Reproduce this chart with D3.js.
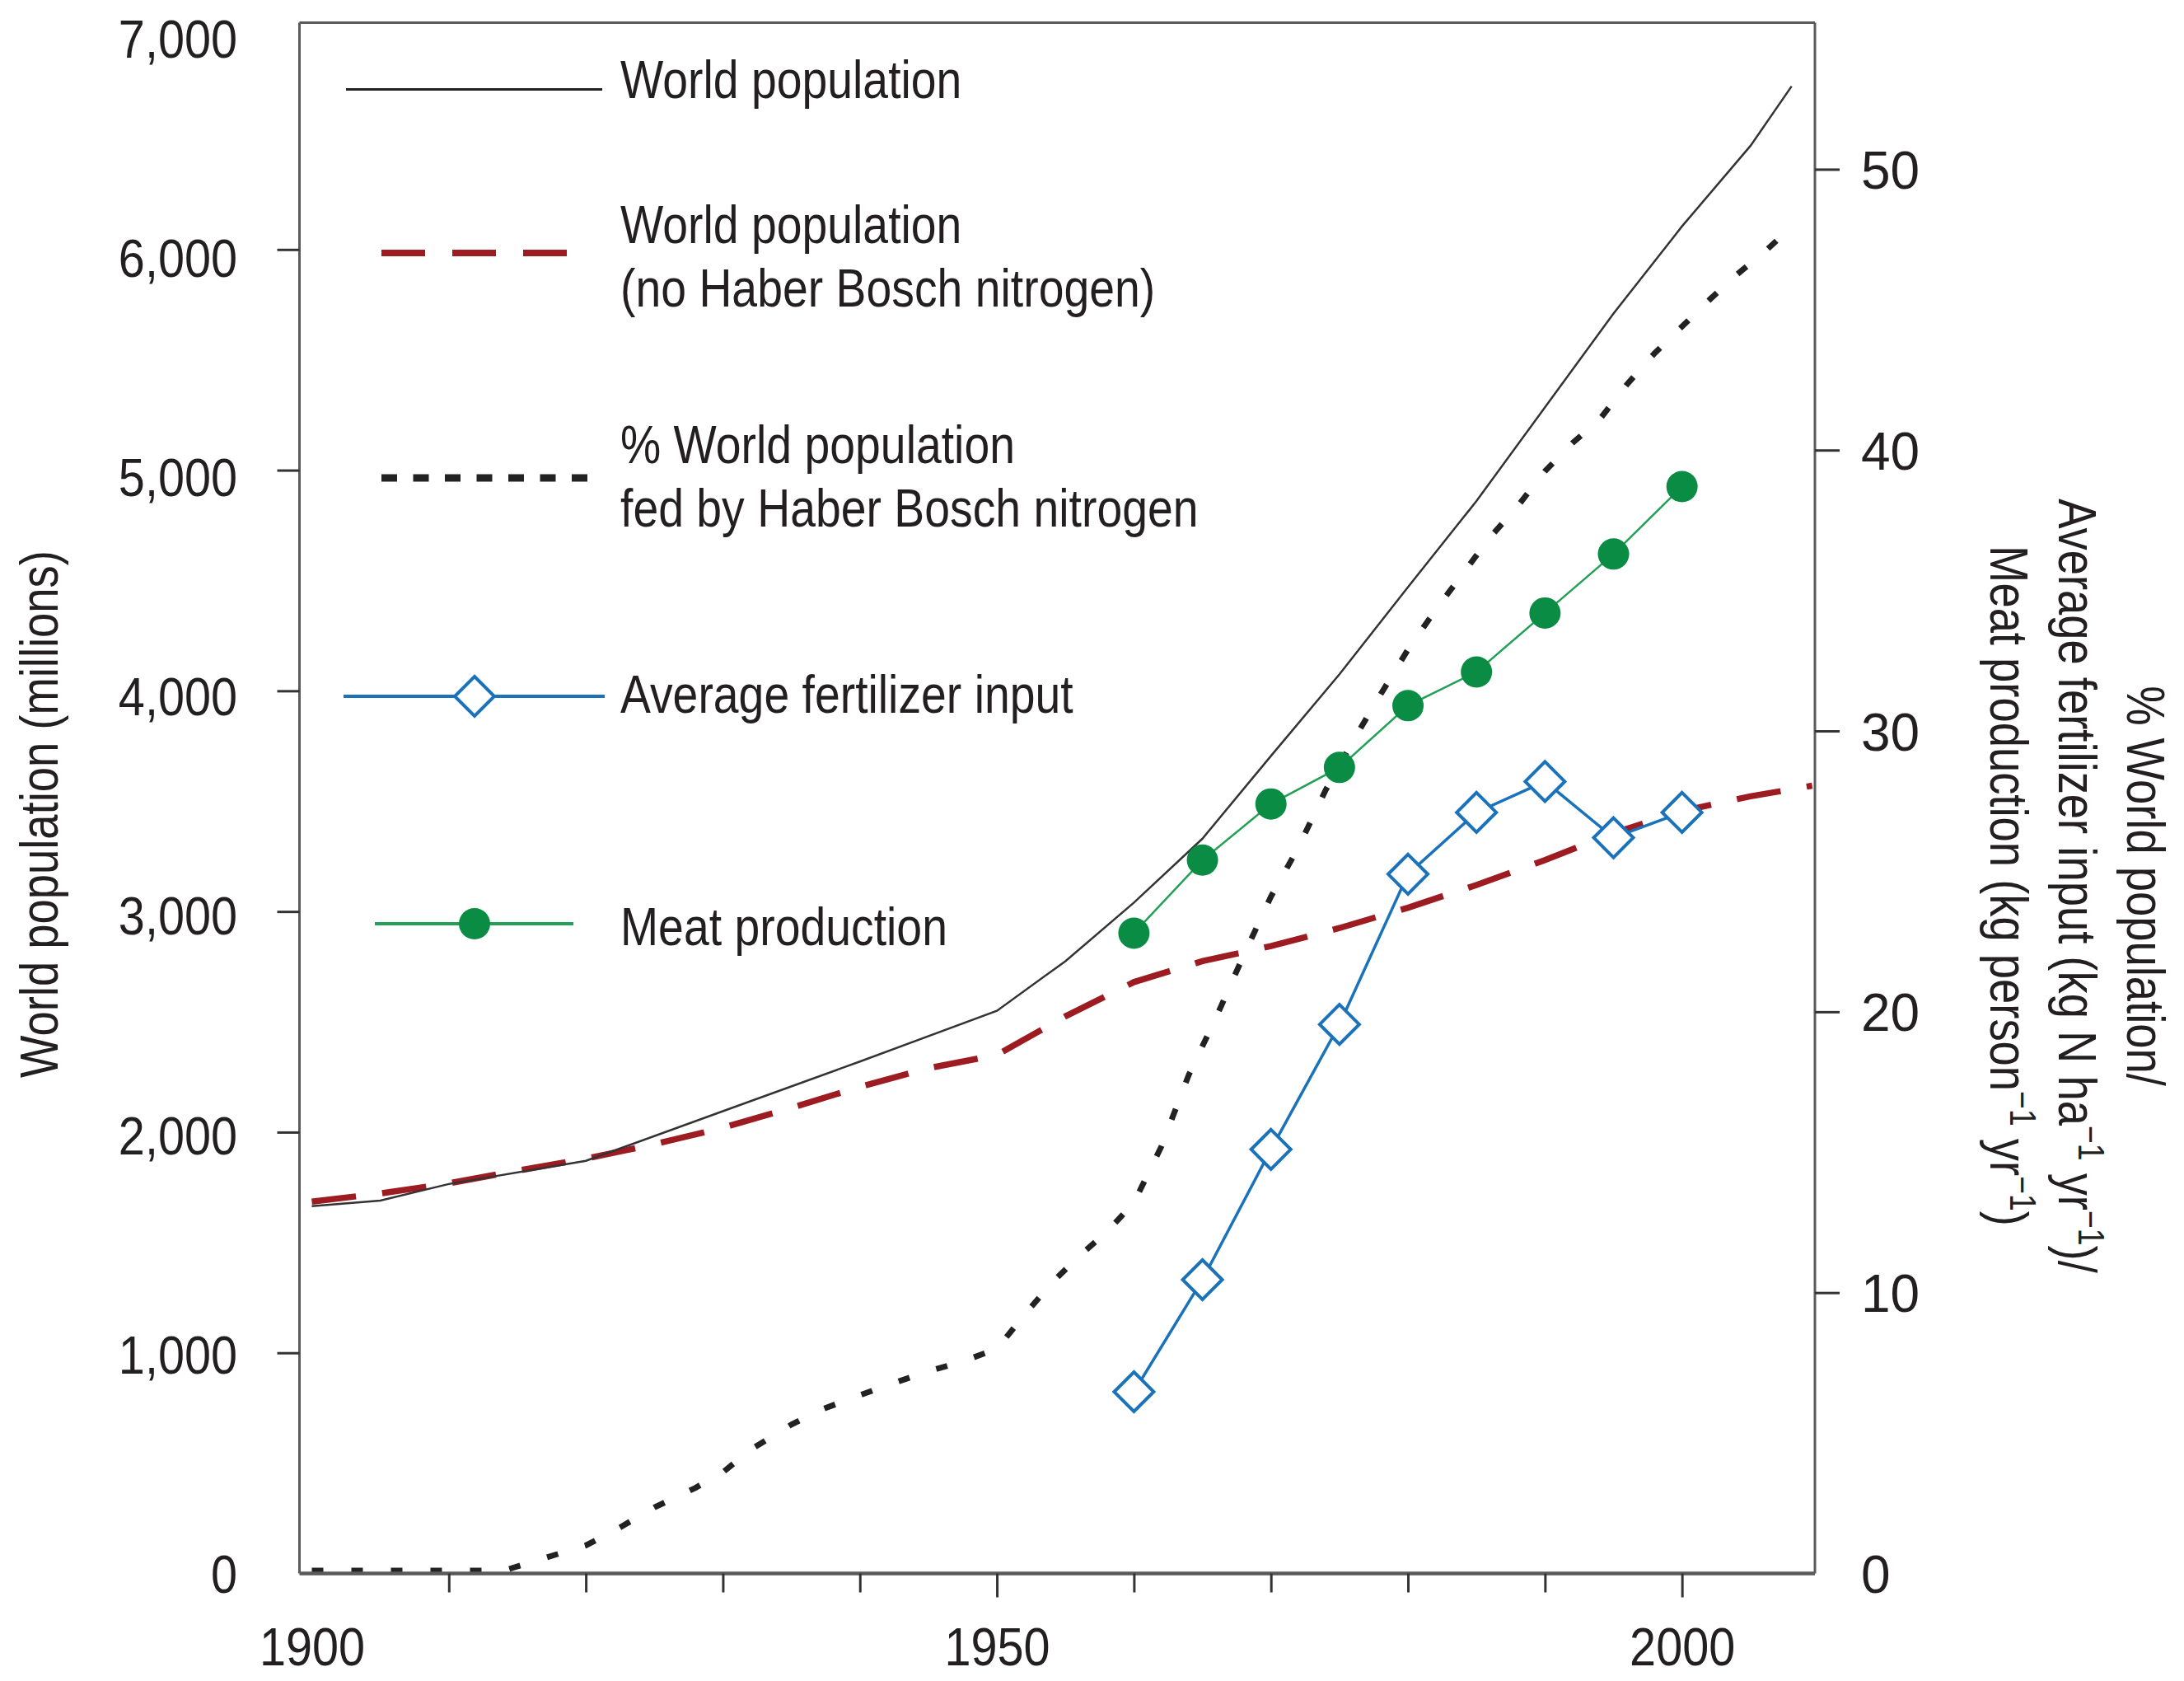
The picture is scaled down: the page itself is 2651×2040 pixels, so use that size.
<!DOCTYPE html>
<html>
<head>
<meta charset="utf-8">
<script src="https://cdn.jsdelivr.net/npm/d3@7"></script>
<style>
  body { margin: 0; background: #fff; }
  text { font-family: 'Liberation Sans', Arial, Helvetica, sans-serif; fill: #231f20; }
</style>
</head>
<body>
<svg id="chart" width="2651" height="2040"></svg>
<script>
// world population, millions
const popYears = [1900, 1905, 1910, 1920, 1930, 1940, 1950, 1955, 1960, 1965, 1970, 1975, 1980, 1985, 1990, 1995, 2000, 2005, 2008];
const popValues = [1665, 1690, 1765, 1870, 2095, 2320, 2550, 2775, 3040, 3330, 3705, 4075, 4470, 4860, 5285, 5710, 6105, 6470, 6740];

// world population without Haber Bosch nitrogen, millions
const noHbYears = [1900, 1905, 1910, 1915, 1920, 1925, 1930, 1935, 1940, 1945, 1950, 1955, 1960, 1965, 1970, 1975, 1980, 1985, 1990, 1995, 2000, 2005, 2009.5];
const noHbValues = [1685, 1722, 1768, 1825, 1880, 1945, 2020, 2110, 2205, 2290, 2350, 2525, 2680, 2775, 2843, 2925, 3017, 3120, 3233, 3355, 3455, 3522, 3570];

// % world population fed by Haber Bosch nitrogen (right axis)
const fedYears = [1900, 1914, 1917, 1920, 1922, 1925, 1928, 1930, 1932, 1935, 1937, 1940, 1942, 1945, 1947.5, 1950, 1952, 1954, 1956, 1958, 1960, 1962, 1964, 1966, 1968, 1970, 1972, 1974, 1976, 1978, 1980, 1982, 1984, 1986, 1988, 1990, 1992, 1994, 1996, 1998, 2000, 2002, 2004, 2006, 2007];
const fedValues = [0.1, 0.1, 0.55, 1.0, 1.5, 2.35, 3.05, 3.6, 4.4, 5.3, 5.8, 6.35, 6.7, 7.2, 7.55, 8.0, 9.2, 10.35, 11.3, 12.15, 13.2, 15.2, 17.75, 19.8, 22.0, 24.1, 25.85, 27.9, 29.65, 31.3, 32.9, 34.3, 35.6, 36.9, 38.0, 39.25, 40.25, 41.1, 42.35, 43.45, 44.4, 45.35, 46.25, 47.05, 47.5];

// average fertilizer input and meat production (right axis)
const markYears = [1960, 1965, 1970, 1975, 1980, 1985, 1990, 1995, 2000];
const fertValues = [6.47, 10.46, 15.1, 19.55, 24.9, 27.1, 28.2, 26.2, 27.1];
const meatValues = [22.8, 25.4, 27.4, 28.7, 30.9, 32.1, 34.2, 36.3, 38.7];

// ticks
const leftTicks = [1000, 2000, 3000, 4000, 5000, 6000];
const leftLabels = [0, 1000, 2000, 3000, 4000, 5000, 6000, 7000];
const rightTicks = [10, 20, 30, 40, 50];
const rightLabels = [0, 10, 20, 30, 40, 50];
const minorYears = [1910, 1920, 1930, 1940, 1960, 1970, 1980, 1990];
const majorYears = [1950, 2000];
const yearLabels = [1900, 1950, 2000];

const L = 363.5, R = 2203, T = 27.5, B = 1909.5;
const RED = '#9c1c22', BLUE = '#1a72bb', GREEN = '#0a8c45', GREEN_LINE = '#22a055';

const svg = d3.select('#chart');

const x = d3.scaleLinear().domain([1899.1, 2009.7]).range([L, R]);
const yL = d3.scaleLinear().domain([0, 7028]).range([B, T]);
// the printed labels sit a touch lower than their ticks towards the top
const yLab = d3.scaleLinear().domain([0, 7000]).range([B, 46]);
const yR = d3.scaleLinear().domain([0, 55.22]).range([B, T]);

const zip = (xs, ys) => xs.map((d, i) => [d, ys[i]]);

// squeeze text horizontally (the original uses a condensed face)
function squeeze(sel, k) {
  sel.each(function () {
    const t = d3.select(this);
    const x0 = +t.attr('x') || 0;
    t.attr('x', 0).attr('transform', `translate(${x0},0) scale(${k},1)`);
  });
}

// series
const lineL = d3.line().x(d => x(d[0])).y(d => yL(d[1]));
const lineR = d3.line().x(d => x(d[0])).y(d => yR(d[1]));

svg.append('path')
  .datum(zip(noHbYears, noHbValues))
  .attr('d', lineL)
  .attr('fill', 'none')
  .attr('stroke', RED)
  .attr('stroke-width', 7.5)
  .attr('stroke-dasharray', '54,32');

svg.append('path')
  .datum(zip(popYears, popValues))
  .attr('d', lineL)
  .attr('fill', 'none')
  .attr('stroke', '#333')
  .attr('stroke-width', 2.5);

svg.append('path')
  .datum(zip(fedYears, fedValues))
  .attr('d', lineR)
  .attr('fill', 'none')
  .attr('stroke', '#222')
  .attr('stroke-width', 7)
  .attr('stroke-dasharray', '14,34');

svg.append('path')
  .datum(zip(markYears, fertValues))
  .attr('d', lineR)
  .attr('fill', 'none')
  .attr('stroke', BLUE)
  .attr('stroke-width', 3.5);

svg.append('path')
  .datum(zip(markYears, meatValues))
  .attr('d', lineR)
  .attr('fill', 'none')
  .attr('stroke', GREEN_LINE)
  .attr('stroke-width', 2.5);

const diamond = s => `M0,${-s}L${s},0L0,${s}L${-s},0Z`;

svg.selectAll('.fert')
  .data(zip(markYears, fertValues))
  .join('path')
  .attr('class', 'fert')
  .attr('transform', d => `translate(${x(d[0])},${yR(d[1])})`)
  .attr('d', diamond(24))
  .attr('fill', '#fff')
  .attr('stroke', BLUE)
  .attr('stroke-width', 4);

svg.selectAll('.meat')
  .data(zip(markYears, meatValues))
  .join('circle')
  .attr('class', 'meat')
  .attr('cx', d => x(d[0]))
  .attr('cy', d => yR(d[1]))
  .attr('r', 19)
  .attr('fill', GREEN);

// frame
const frame = svg.append('g').attr('stroke', '#5a5a5a').attr('fill', 'none');
frame.append('line').attr('x1', L).attr('x2', R).attr('y1', T).attr('y2', T).attr('stroke-width', 3);
frame.append('line').attr('x1', L).attr('x2', L).attr('y1', T).attr('y2', B).attr('stroke-width', 3);
frame.append('line').attr('x1', R).attr('x2', R).attr('y1', T).attr('y2', B).attr('stroke-width', 3);
frame.append('line').attr('x1', L).attr('x2', R).attr('y1', B).attr('y2', B).attr('stroke-width', 4.5);

// axes
function styleAxis(g) {
  g.select('.domain').remove();
  g.selectAll('line').attr('stroke', '#333').attr('stroke-width', 3);
  g.selectAll('text').attr('fill', '#231f20').attr('font-size', 64)
    .attr('font-family', "'Liberation Sans', Arial, Helvetica, sans-serif");
}

svg.append('g').attr('transform', `translate(${L},0)`)
  .call(d3.axisLeft(yL).tickValues(leftTicks).tickSize(27).tickFormat(''))
  .call(styleAxis);

const leftLab = svg.append('g').attr('transform', `translate(${L},0)`)
  .call(d3.axisLeft(yLab).tickValues(leftLabels).tickSize(0).tickPadding(75.5).tickFormat(d3.format(',')))
  .call(styleAxis);
leftLab.selectAll('text').attr('dy', '0.36em').call(squeeze, 0.9);

svg.append('g').attr('transform', `translate(${R},0)`)
  .call(d3.axisRight(yR).tickValues(rightTicks).tickSize(30).tickFormat(''))
  .call(styleAxis);

svg.append('g').attr('transform', `translate(${R},0)`)
  .call(d3.axisRight(yR).tickValues(rightLabels).tickSize(0).tickPadding(56))
  .call(styleAxis)
  .selectAll('text').attr('dy', '0.36em');

svg.append('g').attr('transform', `translate(0,${B})`)
  .call(d3.axisBottom(x).tickValues(minorYears).tickSize(23).tickFormat(''))
  .call(styleAxis);

svg.append('g').attr('transform', `translate(0,${B})`)
  .call(d3.axisBottom(x).tickValues(majorYears).tickSize(29).tickFormat(''))
  .call(styleAxis);

const botLab = svg.append('g').attr('transform', `translate(0,${B})`)
  .call(d3.axisBottom(x).tickValues(yearLabels).tickSize(0).tickPadding(66).tickFormat(d3.format('d')))
  .call(styleAxis);
botLab.selectAll('text').attr('transform', 'scale(0.9,1)');

// axis titles
svg.append('text')
  .attr('transform', 'translate(70,988) rotate(-90) scale(0.85,1)')
  .attr('text-anchor', 'middle')
  .attr('font-size', 64)
  .text('World population (millions)');

const rightTitle = [
  { x: 2582, parts: [['% World population/']] },
  { x: 2499, parts: [['Average fertilizer input (kg N ha'], ['\u22121', 1], [' yr'], ['\u22121', 1], [')/']] },
  { x: 2416, parts: [['Meat production (kg person'], ['\u22121', 1], [' yr'], ['\u22121', 1], [')']] }
];
rightTitle.forEach(line => {
  const t = svg.append('text')
    .attr('transform', `translate(${line.x},1075) rotate(90) scale(0.85,1)`)
    .attr('text-anchor', 'middle')
    .attr('font-size', 64);
  let raised = false;
  line.parts.forEach(([s, sup]) => {
    const sp = t.append('tspan').text(s);
    if (sup) { sp.attr('font-size', 44).attr('dy', raised ? 0 : -24); raised = true; }
    else if (raised) { sp.attr('dy', 24); raised = false; }
  });
});

// legend
const leg = svg.append('g');
function legText(xp, yp, s) {
  leg.append('text')
    .attr('transform', `translate(${xp},${yp}) scale(0.865,1)`)
    .attr('font-size', 64)
    .text(s);
}

leg.append('line').attr('x1', 420).attr('x2', 731).attr('y1', 108.5).attr('y2', 108.5)
  .attr('stroke', '#222').attr('stroke-width', 3);
legText(753, 119, 'World population');

leg.append('line').attr('x1', 463).attr('x2', 688).attr('y1', 307).attr('y2', 307)
  .attr('stroke', RED).attr('stroke-width', 8).attr('stroke-dasharray', '53,33');
legText(753, 295, 'World population');
legText(753, 372, '(no Haber Bosch nitrogen)');

leg.append('line').attr('x1', 463).attr('x2', 714).attr('y1', 580).attr('y2', 580)
  .attr('stroke', '#222').attr('stroke-width', 9).attr('stroke-dasharray', '19,19.5');
legText(753, 561.5, '% World population');
legText(753, 639, 'fed by Haber Bosch nitrogen');

leg.append('line').attr('x1', 417).attr('x2', 734).attr('y1', 845).attr('y2', 845)
  .attr('stroke', BLUE).attr('stroke-width', 4);
leg.append('path').attr('transform', 'translate(576,845)').attr('d', diamond(24))
  .attr('fill', '#fff').attr('stroke', BLUE).attr('stroke-width', 4);
legText(753, 865, 'Average fertilizer input');

leg.append('line').attr('x1', 455).attr('x2', 696).attr('y1', 1121).attr('y2', 1121)
  .attr('stroke', GREEN_LINE).attr('stroke-width', 4);
leg.append('circle').attr('cx', 576).attr('cy', 1121).attr('r', 19).attr('fill', GREEN);
legText(753, 1147, 'Meat production');
</script>
</body>
</html>
